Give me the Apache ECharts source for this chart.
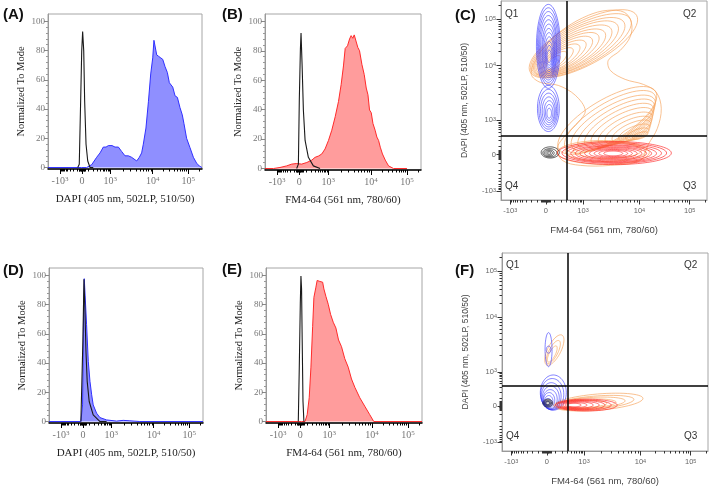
<!DOCTYPE html>
<html>
<head>
<meta charset="utf-8">
<script src="https://cdn.jsdelivr.net/npm/echarts@6/dist/echarts.min.js"></script>
<style>
  html, body { margin: 0; padding: 0; background: #fff; }
  #main { width: 709px; height: 487px; }
</style>
</head>
<body>
<div id="main"></div>
<script>
// x / y positions are given in display channels: 0..100 across each logicle axis
const tickLabels = ['-10^3', '0', '10^3', '10^4', '10^5'];
const histTicks = [7.8, 22, 40.5, 68, 91];
const dotXTicks = [4.5, 21.8, 39.8, 67.2, 91.6];
const dotYTicks = [4.4, 22.8, 40, 67.6, 90.8];
const modeTicks = [0, 20, 40, 60, 80, 100];

const dapiName = 'DAPI (405 nm, 502LP, 510/50)';
const fmName = 'FM4-64 (561 nm, 780/60)';

// histograms: [channel, % of mode]
const dapiA = [[0,0],[21.9,0],[25.1,0],[28.4,2],[31.6,7],[33.8,10],[35.9,14],[37.7,14],[39.2,15],[40.3,14],[41.6,15],[43.5,14],[45.7,14],[47.8,11],[50,8],[52.2,8],[54.3,7],[57.6,4.5],[59.3,7],[60.8,10],[61.9,16],[63.6,27],[65.2,45],[66.7,64],[68,75],[68.8,87],[69.7,87],[70.6,77],[71.9,76],[73.2,75],[74.5,74],[76,69],[77.5,65],[78.8,58],[79.7,58],[81,55],[82.5,49],[84,48],[85.7,41],[87.2,36],[88.3,30],[90,20],[92.2,13.6],[94.4,7],[96.5,3],[98.3,1],[99.4,0],[100,0]];
const ctrlA = [[19.3,0],[20.3,2.2],[21.2,45.5],[21.9,79.8],[22.5,93],[23.2,79.8],[23.8,45.5],[24.7,15.9],[25.8,4.5],[27.3,0],[29.4,0]];

const fmB = [[0,0],[5.4,0],[9.6,0.7],[13.9,1.8],[17.1,3],[20.3,3.4],[23.5,3],[26.8,4.1],[30,5.7],[32.1,7.6],[34.3,8.5],[36.4,9.9],[38.5,13.3],[40.7,19.1],[42.8,26],[45,35.2],[47.1,45.5],[48.8,57],[50.3,69.7],[51.4,81.6],[52.9,83.4],[54.2,88],[55.2,90.3],[56.3,88.5],[57.2,90.8],[58.4,89.9],[59.5,82.3],[60.6,80],[62.1,70.8],[63.6,63.9],[64.9,54.7],[66,50.1],[67,39.8],[68.1,37.9],[69.2,30.6],[70.6,26],[71.7,21.4],[72.8,19.1],[73.9,14.5],[75.3,9.9],[77.1,5.7],[79.2,1.8],[82.4,0],[91,0]];
const ctrlB = [[20.3,0],[21.4,3],[22,47],[22.7,81.4],[23.1,92],[23.8,69.7],[24.6,39.8],[25.7,19.1],[27.8,7.6],[31,1.8],[35.3,0]];

const dapiD = [[0,0],[20.7,0],[21.8,11.4],[22.5,77.8],[22.9,97.7],[23.5,96.6],[24.4,66.4],[25.5,41.2],[26.6,27.5],[27.7,18.3],[28.7,11.4],[30.9,5.7],[33.1,2.7],[37.4,1.1],[43.9,0.3],[48.2,0.8],[52.5,0.5],[59,0],[100,0]];
const ctrlD = [[20.7,0],[22,55],[22.7,97.3],[23.3,77.8],[24,48],[24.8,27.5],[26.1,13.7],[28.7,4.6],[33.1,0],[37.4,0]];

const fmE = [[0,0],[22.8,0],[25,0],[26.4,4.7],[27.7,16.3],[28.8,37.2],[29.9,65.1],[30.7,84.9],[32,91.9],[32.8,96.5],[34.5,95.8],[36.3,95.3],[37.1,90.7],[38.4,85.6],[39.9,80.2],[41.4,73.3],[43.1,67.9],[44.8,64],[46.5,55.8],[48.4,51.2],[50.5,43],[52.7,37.2],[54.8,29.1],[57,23.3],[60.1,16.3],[63.3,10.5],[66.5,4.7],[69.1,0],[100,0]];
const ctrlE = [[20.7,0],[21.3,34.9],[22,81.4],[22.4,99.5],[22.8,90.7],[23.2,55.8],[23.7,14],[24.3,0]];

// contour levels: [centre x, centre y, half length, half width, tilt in degrees]
const orangeTopC = [[40,78.5,29.5,10.8,29],[38.8,77.7,27.4,10.1,29],[37.6,77,25.3,9.3,29],[36.4,76.2,23.3,8.6,30],[35.1,75.4,21.2,7.8,30],[33.9,74.6,19.1,7.1,30],[32.7,73.9,17,6.3,31],[31.5,73.1,14.9,5.6,32],[30.3,72.3,12.8,4.8,33],[29.1,71.5,10.8,4.1,34],[27.8,70.8,8.7,3.3,36],[26.6,70,6.6,2.6,40],[25.4,69.2,4.5,1.8,45]];
const orangeLowC = [[51.6,40,27.6,10.3,32],[53,39.3,25.5,9.5,32],[54.5,38.6,23.3,8.7,31],[55.9,37.9,21.2,7.9,31],[57.4,37.3,19,7.1,30],[58.8,36.6,16.9,6.3,29],[60.4,35.8,14.6,5.5,28],[61.8,35.1,12.4,4.7,27],[63.3,34.5,10.3,3.9,26],[64.7,33.8,8.2,3.1,24],[66.2,33.1,6,2.3,22],[67.6,32.4,3.9,1.5,20]];
const orangeBaseC = [[49.7,23.9,22.3,6,0],[50.6,24.4,19.4,5,0],[51.6,24.9,16.5,4,0]];
const orangeOuterC = [[14.7,63.1],[16.7,70.2],[23,79.2],[31.7,86.8],[42.4,92.8],[51.6,95.3],[59.9,94.3],[63.3,89.2],[62.8,82.2],[57.9,75.2],[52.1,70.2],[53.1,65.1],[60.3,60.6],[69.1,58.1],[75.4,54.1],[77.8,46],[75.9,36],[71.5,27.9],[67.6,19.9],[53.1,17.4],[38.5,17.4],[29.8,19.9],[27.3,25.9],[31.2,32.4],[37.5,39],[40.9,45],[36.1,52.6],[27.8,57.6],[19.1,59.1]];
const blueTopC = [[23,77.2,21.1,5.8,90],[23,77.2,19.4,5.3,90],[23,76.9,17.8,4.8,90],[23,76.5,16.2,4.3,90],[23.1,76,14.6,3.9,90],[23.2,75.4,13,3.4,90],[23.2,74.8,11.4,3,90],[23.3,74.3,9.8,2.6,90],[23.4,73.8,8.2,2.2,90],[23.4,73.2,6.6,1.8,90],[23.4,72.7,5,1.4,90],[23.4,72.2,3.2,1,90]];
const blueLowC = [[23,46,11.6,5.3,90],[23,45.6,10,4.6,90],[23.1,45.2,8.5,3.9,90],[23.2,44.8,7,3.2,90],[23.4,44.4,5.5,2.5,90],[23.4,44,4,1.8,90],[23.4,43.6,2.5,1.1,90]];
const redC = [[55,23.6,27.7,5.8,0],[55,23.6,25.4,5.2,0],[54.8,23.5,23.1,4.7,0],[54.7,23.4,20.8,4.2,0],[54.6,23.4,18.5,3.8,0],[54.5,23.4,16.2,3.3,0],[54.5,23.4,13.9,2.9,0],[54.5,23.4,11.6,2.4,0],[54.5,23.4,9.3,2,0],[54.5,23.4,7,1.6,0],[54.5,23.4,4.6,1.2,0]];
const blackC = [[23.9,23.9,4.4,2.8,0],[23.7,23.7,3.4,2.1,0],[23.4,23.6,2.4,1.6,0],[23.4,23.6,1.6,1.1,0],[23.4,23.6,0.8,0.6,0]];

const orangeUpF = [[25.4,51,8.4,3.2,64],[24.9,50,6.4,2.2,64],[24.4,49,4.5,1.5,64]];
const orangeLowF = [[46.7,24.7,21.8,4.1,5],[44.7,24.4,19.4,3.3,5],[42.8,24.2,17,2.8,4],[40.9,23.9,14.5,2.3,3],[38.9,23.7,12.1,1.8,2]];
const blueUpF = [[22.6,51.2,8.6,1.7,90],[22.6,51.2,1.8,1.1,90]];
const blueLowF = [[24.9,29.5,8.9,6.3,90],[24.4,28.7,7.9,5.6,90],[23.9,27.7,6.8,4.8,90],[23.7,27,5.8,4.1,90],[23.4,26.2,4.8,3.4,90],[22.9,25.7,3.8,2.7,90],[22.7,25.2,2.8,2,90],[22.4,24.7,1.8,1.5,90],[22.2,24.2,1,0.9,90]];
const redF = [[40.9,23.2,15,3,0],[39.9,23.2,13.1,2.6,0],[38.9,23.2,11.1,2.3,0],[38,23.2,9.2,1.9,0],[37,23.2,7.3,1.6,0],[36,23.2,5.3,1.2,0],[35,23.2,3.4,0.9,0]];
const blackF = [[22.2,24.2,2.4,2,0],[22.2,24.2,1.9,1.5,0],[22.2,24.2,1.5,1,0],[22.2,24.2,1,0.6,0]];

const gateC = [31.7, 32.4];
const gateF = [31.8, 32.9];

const BLUE = '#3030ff', BLUE_FILL = '#8f8fff';
const RED = '#ff2a2a', RED_FILL = '#ff9c9c';
const ORANGE = '#f6a35c', BLACK = '#1a1a1a';

// minor ticks of a logicle axis, placed from the major tick positions
function minorTicks(p) {
  const [pn, p0, p3, p4, p5] = p;
  const W = 160, k0 = Math.asinh(1000 / W);
  const pos = v => {
    if (Math.abs(v) <= 1000) {
      const f = Math.asinh(Math.abs(v) / W) / k0;
      return v < 0 ? p0 - (p0 - pn) * f : p0 + (p3 - p0) * f;
    }
    const k = Math.floor(Math.log10(v) + 1e-9);
    const lo = k === 3 ? p3 : k === 4 ? p4 : p5;
    const step = k === 3 ? p4 - p3 : p5 - p4;
    return lo + step * Math.log10(v / Math.pow(10, k));
  };
  const out = [];
  for (let m = 1; m <= 9; m++) {
    [m * 100, -m * 100].forEach(v => out.push(pos(v)));
    if (m <= 5) [m * 10, -m * 10].forEach(v => out.push(pos(v)));
    if (m > 1) [m * 1e3, m * 1e4, m * 1e5].forEach(v => out.push(pos(v)));
  }
  return out.filter(v => v > 0.2 && v < 99.8);
}

function tickFormatter(ticks) {
  return v => {
    const i = ticks.findIndex(t => Math.abs(t - v) < 1e-3);
    if (i < 0) return '';
    const parts = tickLabels[i].split('^');
    return parts.length > 1 ? '{b|' + parts[0] + '}{s|' + parts[1] + '}' : '{b|' + parts[0] + '}';
  };
}

const grids = [], xAxes = [], yAxes = [], series = [];

function addGrid(box) {
  grids.push({
    left: box[0], top: box[1], width: box[2], height: box[3],
    show: true, borderColor: '#a6a6a6', borderWidth: 1,
    containLabel: false, outerBoundsMode: 'none'
  });
  return grids.length - 1;
}

function histogram(box, xName, sample, control, line, fill) {
  const g = addGrid(box);
  const serif = 'Liberation Serif';
  const xi = xAxes.length, yi = yAxes.length;
  xAxes.push({
    type: 'value', gridIndex: g, min: 0, max: 100, position: 'bottom',
    axisLine: { show: true, onZero: false, lineStyle: { color: '#000', width: 1.5 } },
    axisTick: { show: true, customValues: histTicks, length: 5, lineStyle: { color: '#000' } },
    axisLabel: {
      show: true, customValues: histTicks, margin: 7, formatter: tickFormatter(histTicks),
      rich: {
        b: { fontFamily: serif, fontSize: 10, color: '#777', verticalAlign: 'bottom' },
        s: { fontFamily: serif, fontSize: 7, color: '#777', verticalAlign: 'top' }
      }
    },
    splitLine: { show: false },
    name: xName, nameLocation: 'middle', nameGap: 25,
    nameTextStyle: { fontFamily: serif, fontSize: 11, color: '#222' }
  });
  xAxes.push({
    type: 'value', gridIndex: g, min: 0, max: 100, position: 'bottom',
    axisLine: { show: false, onZero: false },
    axisTick: { show: true, customValues: minorTicks(histTicks), length: 2.5, lineStyle: { color: '#000' } },
    axisLabel: { show: false }, splitLine: { show: false }
  });
  yAxes.push({
    type: 'value', gridIndex: g, min: -1, max: 105, position: 'left',
    axisLine: { show: true, onZero: false, lineStyle: { color: '#9a9a9a' } },
    axisTick: { show: true, customValues: modeTicks, length: 4, lineStyle: { color: '#888' } },
    axisLabel: { show: true, customValues: modeTicks, margin: 3, fontFamily: serif, fontSize: 9, color: '#777' },
    splitLine: { show: false },
    name: 'Normalized To Mode', nameLocation: 'middle', nameGap: 21,
    nameTextStyle: { fontFamily: serif, fontSize: 10.5, color: '#222' }
  });
  const minorMode = [];
  modeTicks.slice(0, -1).forEach(t => [4, 8, 12, 16].forEach(d => minorMode.push(t + d)));
  yAxes.push({
    type: 'value', gridIndex: g, min: -1, max: 105, position: 'left',
    axisLine: { show: false, onZero: false },
    axisTick: { show: true, customValues: minorMode, length: 2, lineStyle: { color: '#999' } },
    axisLabel: { show: false }, splitLine: { show: false }
  });
  series.push({
    type: 'line', xAxisIndex: xi, yAxisIndex: yi, data: sample, showSymbol: false,
    lineStyle: { color: line, width: 1 }, areaStyle: { color: fill, opacity: 1 }, z: 2
  });
  series.push({
    type: 'line', xAxisIndex: xi, yAxisIndex: yi, data: control, showSymbol: false,
    lineStyle: { color: BLACK, width: 1.1 }, z: 3
  });
}

function ringSeries(rings, color, xi, yi, width, opacity) {
  return {
    type: 'custom', xAxisIndex: xi, yAxisIndex: yi, data: rings, silent: true,
    renderItem: (params, api) => {
      const cx = api.value(0), cy = api.value(1), a = api.value(2), b = api.value(3);
      const ang = api.value(4) * Math.PI / 180;
      const pts = [];
      for (let i = 0; i < 60; i++) {
        const t = i / 60 * Math.PI * 2;
        const u = a * Math.cos(t), w = b * Math.sin(t);
        pts.push(api.coord([cx + u * Math.cos(ang) - w * Math.sin(ang), cy + u * Math.sin(ang) + w * Math.cos(ang)]));
      }
      return { type: 'polygon', shape: { points: pts }, style: { fill: 'none', stroke: color, lineWidth: width, opacity: opacity } };
    }
  };
}

function outlineSeries(points, color, xi, yi) {
  return {
    type: 'custom', xAxisIndex: xi, yAxisIndex: yi, data: [points[0]], silent: true,
    renderItem: (params, api) => ({
      type: 'polygon',
      shape: { points: points.map(p => api.coord(p)), smooth: 0.35 },
      style: { fill: 'none', stroke: color, lineWidth: 0.8, opacity: 0.85 }
    })
  };
}

function contourPanel(box, gate, layers) {
  const g = addGrid(box);
  const sans = 'Liberation Sans';
  const xi = xAxes.length, yi = yAxes.length;
  const rich = {
    b: { fontFamily: sans, fontSize: 7.5, color: '#666', verticalAlign: 'bottom' },
    s: { fontFamily: sans, fontSize: 5.5, color: '#666', verticalAlign: 'top' }
  };
  xAxes.push({
    type: 'value', gridIndex: g, min: 0, max: 100, position: 'bottom',
    axisLine: { show: true, onZero: false, lineStyle: { color: '#999' } },
    axisTick: { show: true, customValues: dotXTicks, length: 4.5, lineStyle: { color: '#333' } },
    axisLabel: { show: true, customValues: dotXTicks, margin: 7, formatter: tickFormatter(dotXTicks), rich: rich },
    splitLine: { show: false },
    name: fmName, nameLocation: 'middle', nameGap: 25,
    nameTextStyle: { fontFamily: sans, fontSize: 9.5, color: '#444' }
  });
  xAxes.push({
    type: 'value', gridIndex: g, min: 0, max: 100, position: 'bottom',
    axisLine: { show: false, onZero: false },
    axisTick: { show: true, customValues: minorTicks(dotXTicks), length: 2.5, lineStyle: { color: '#333' } },
    axisLabel: { show: false }, splitLine: { show: false }
  });
  yAxes.push({
    type: 'value', gridIndex: g, min: 0, max: 100, position: 'left',
    axisLine: { show: true, onZero: false, lineStyle: { color: '#999' } },
    axisTick: { show: true, customValues: dotYTicks, length: 4.5, lineStyle: { color: '#333' } },
    axisLabel: { show: true, customValues: dotYTicks, margin: 5, formatter: tickFormatter(dotYTicks), rich: rich },
    splitLine: { show: false },
    name: dapiName, nameLocation: 'middle', nameGap: 32,
    nameTextStyle: { fontFamily: sans, fontSize: 8.5, color: '#444' }
  });
  yAxes.push({
    type: 'value', gridIndex: g, min: 0, max: 100, position: 'left',
    axisLine: { show: false, onZero: false },
    axisTick: { show: true, customValues: minorTicks(dotYTicks), length: 2.5, lineStyle: { color: '#333' } },
    axisLabel: { show: false }, splitLine: { show: false }
  });
  layers.forEach(l => {
    if (l.outline) series.push(outlineSeries(l.outline, l.color, xi, yi));
    else series.push(ringSeries(l.rings, l.color, xi, yi, l.width || 0.8, l.opacity || 0.85));
  });
  series.push({
    type: 'line', xAxisIndex: xi, yAxisIndex: yi, data: [], z: 5,
    markLine: {
      silent: true, symbol: 'none', label: { show: false }, animation: false,
      lineStyle: { color: '#000', width: 1.5, type: 'solid' },
      data: [{ xAxis: gate[0] }, { yAxis: gate[1] }]
    }
  });
}

histogram([48, 14, 154, 155], dapiName, dapiA, ctrlA, BLUE, BLUE_FILL);
histogram([265, 14, 156, 156], fmName, fmB, ctrlB, RED, RED_FILL);
contourPanel([501, 1, 206, 199], gateC, [
  { outline: orangeOuterC, color: ORANGE },
  { rings: orangeTopC, color: ORANGE },
  { rings: orangeLowC, color: ORANGE },
  { rings: orangeBaseC, color: ORANGE },
  { rings: blueTopC, color: BLUE, opacity: 0.75 },
  { rings: blueLowC, color: BLUE, opacity: 0.75 },
  { rings: redC, color: RED },
  { rings: blackC, color: BLACK, opacity: 0.9 }
]);
histogram([49, 268, 154, 155], dapiName, dapiD, ctrlD, BLUE, BLUE_FILL);
histogram([266, 268, 156, 155], fmName, fmE, ctrlE, RED, RED_FILL);
contourPanel([502, 253, 206, 198], gateF, [
  { rings: orangeUpF, color: ORANGE },
  { rings: orangeLowF, color: ORANGE },
  { rings: blueUpF, color: BLUE, opacity: 0.75 },
  { rings: blueLowF, color: BLUE, opacity: 0.75 },
  { rings: redF, color: RED },
  { rings: blackF, color: BLACK, opacity: 0.9 }
]);

const label = (text, left, top, size, weight, color) => ({
  type: 'text', left: left, top: top, silent: true,
  style: { text: text, fontFamily: 'Liberation Sans', fontSize: size, fontWeight: weight, fill: color }
});

const chart = echarts.init(document.getElementById('main'));
chart.setOption({
  animation: false,
  backgroundColor: '#fff',
  grid: grids,
  xAxis: xAxes,
  yAxis: yAxes,
  series: series,
  graphic: [
    label('(A)', 3, 7, 15, 'bold', '#111'),
    label('(B)', 222, 7, 15, 'bold', '#111'),
    label('(C)', 455, 8, 15, 'bold', '#111'),
    label('(D)', 3, 263, 15, 'bold', '#111'),
    label('(E)', 222, 262, 15, 'bold', '#111'),
    label('(F)', 455, 263, 15, 'bold', '#111'),
    label('Q1', 505, 9, 10, 'normal', '#333'),
    label('Q2', 683, 9, 10, 'normal', '#333'),
    label('Q4', 505, 181, 10, 'normal', '#333'),
    label('Q3', 683, 181, 10, 'normal', '#333'),
    label('Q1', 506, 260, 10, 'normal', '#333'),
    label('Q2', 684, 260, 10, 'normal', '#333'),
    label('Q4', 506, 431, 10, 'normal', '#333'),
    label('Q3', 684, 431, 10, 'normal', '#333')
  ]
});
</script>
</body>
</html>
